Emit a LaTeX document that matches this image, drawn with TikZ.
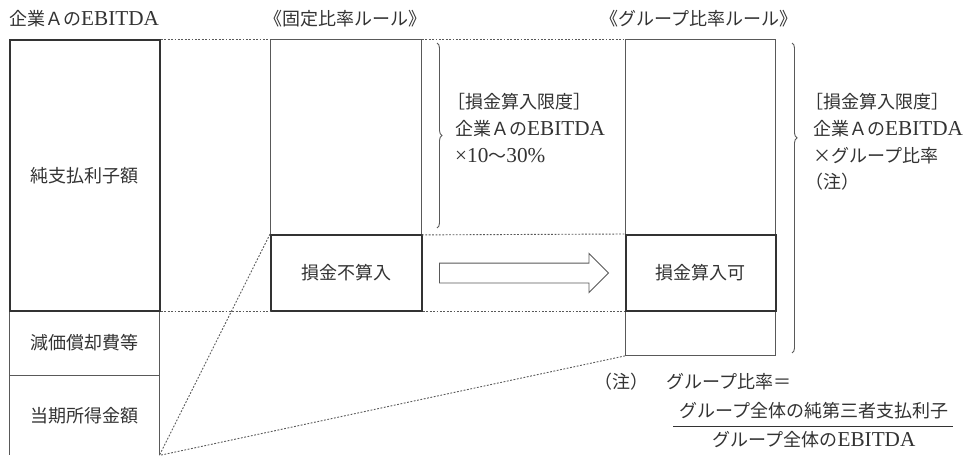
\documentclass[tikz,border=0pt]{standalone}
\usepackage{fontspec}
\setmainfont{Noto Sans CJK JP}
\newfontfamily\lat[Scale=1.18]{Liberation Serif}
\usetikzlibrary{shapes.arrows,decorations.pathreplacing}
\definecolor{ink}{gray}{0.2}
\definecolor{rule}{gray}{0.35}
\tikzset{
  thinbox/.style={draw=rule, line width=0.9pt, inner sep=0pt, anchor=north west, text=ink},
  thickbox/.style={draw=ink, line width=1.9pt, inner sep=0pt, anchor=north west, text=ink},
  thinline/.style={draw=rule, line width=0.9pt},
  dots/.style={draw=rule, line width=0.9pt, dash pattern=on 1.8pt off 1.6pt},
  txt/.style={inner sep=0pt, text=ink, text height=13pt, text depth=3pt},
  brc/.style={draw=rule, line width=0.9pt, decorate},
}
\begin{document}
\begin{tikzpicture}[x=1pt, y=-1pt, font=\fontsize{18}{27}\selectfont]
\useasboundingbox[fill=white] (0,0) rectangle (965,455);

% left column
\node[thinbox, minimum width=150pt, minimum height=65pt] (dep) at (9,310) {減価償却費等};
\node[anchor=north west, inner sep=0pt, minimum width=150pt, minimum height=80pt, text=ink] (inc) at (9,375) {当期所得金額};
\draw[thinline] (inc.north west) -- (inc.south west);
\draw[thinline] (inc.north east) -- (inc.south east);
\node[thickbox, minimum width=150pt, minimum height=271pt] (nia) at (9,39) {純支払利子額};

% fixed ratio column
\node[thinbox, minimum width=151pt, minimum height=195pt] (fixtop) at (270,39) {};
\node[thickbox, minimum width=151pt, minimum height=76pt] (nonded) at (270,234) {損金不算入};

% group ratio column
\node[thinbox, minimum width=150pt, minimum height=316pt] (grp) at (625,39) {};
\node[thickbox, minimum width=150pt, minimum height=76pt] (ded) at (625,234) {損金算入可};

% dotted guide lines
\draw[dots] (nia.north east) -- (fixtop.north west);
\draw[dots] (fixtop.north east) -- (grp.north west);
\draw[dots] (fixtop.south east) -- (ded.north west);
\draw[dots] (nia.south east) -- (nonded.south west);
\draw[dots] (nonded.south east) -- (ded.south west);
\draw[dots] (nonded.north west) -- (inc.south east);
\draw[dots] (grp.south west) -- (inc.south east);

% block arrow
\node[single arrow, draw=rule, line width=0.9pt, fill=white, minimum height=169pt,
      text height=19pt, text depth=0pt, inner sep=0pt,
      single arrow head extend=9.5pt, single arrow tip angle=90, anchor=west] (arr) at (439,273) {};

% braces
\coordinate (b1s) at (437,43);
\coordinate (b1e) at (437,228);
\draw[brc, decoration={brace, amplitude=5pt}] (b1s) -- (b1e);
\coordinate (b2s) at (792,43);
\coordinate (b2e) at (792,353);
\draw[brc, decoration={brace, amplitude=5pt, aspect=0.306}] (b2s) -- (b2e);

% titles
\node[txt, anchor=west] (t1) at (9,20) {企業Ａの{\lat EBITDA}};
\node[txt] (t2) at (345,20) {《固定比率ルール》};
\node[txt] (t3) at (699,20) {《グループ比率ルール》};

% middle limit text
\node[txt, anchor=west] (m1) at (455,103) {\hspace*{-0.45em}［損金算入限度］};
\node[txt, anchor=west] (m2) at (455,130) {企業Ａの{\lat EBITDA}};
\node[txt, anchor=west] (m3) at (455,157) {{\lat ×10}〜{\lat 30\%}};

% right limit text
\node[txt, anchor=west] (r1) at (813,103) {\hspace*{-0.45em}［損金算入限度］};
\node[txt, anchor=west] (r2) at (813,130) {企業Ａの{\lat EBITDA}};
\node[txt, anchor=west] (r3) at (813,157) {×グループ比率};
\node[txt, anchor=west] (r4) at (813,183) {\hspace*{-0.45em}（注）};

% note
\node[txt, anchor=west] (n1) at (602,383) {\hspace*{-0.45em}（注）　グループ比率＝};
\node[txt] (n2) at (814,412) {グループ全体の純第三者支払利子};
\coordinate (barl) at (673,426);
\coordinate (barr) at (953,426);
\draw[draw=ink, line width=0.9pt] (barl) -- (barr);
\node[txt] (n3) at (814,441) {グループ全体の{\lat EBITDA}};
\end{tikzpicture}
\end{document}
